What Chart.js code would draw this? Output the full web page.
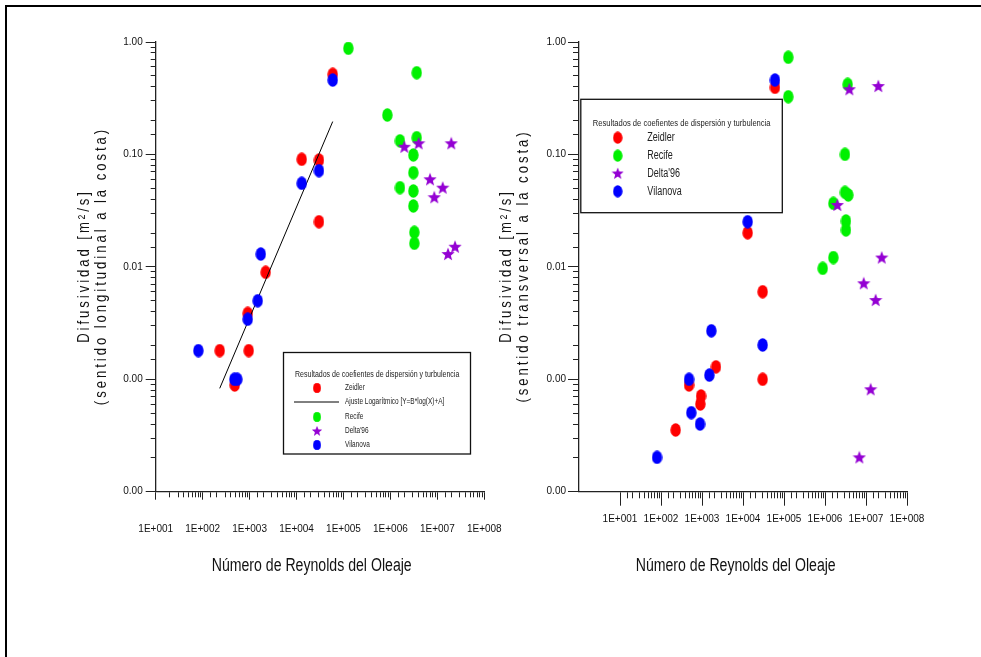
<!DOCTYPE html>
<html>
<head>
<meta charset="utf-8">
<script src="https://cdn.jsdelivr.net/npm/chart.js@4.4.0/dist/chart.umd.min.js"></script>
<style>
	html, body { margin: 0; padding: 0; background: #fff; }
	#page { position: relative; width: 981px; height: 657px; overflow: hidden; }
	#frame { position: absolute; left: 5px; top: 5px; width: 1100px; height: 800px; border-left: 2px solid #000; border-top: 2px solid #000; }
	#longChart { position: absolute; left: 0; top: 0; }
	#transChart { position: absolute; left: 490px; top: 0; }
</style>
</head>
<body>
<div id="page">
	<div id="frame"></div>
	<canvas id="longChart" width="520" height="657"></canvas>
	<canvas id="transChart" width="491" height="657"></canvas>
</div>
<script>
const FONT = '"Liberation Sans", Arial, sans-serif'

// tick labels
const xMajorValues = [10, 100, 1e3, 1e4, 1e5, 1e6, 1e7, 1e8]
const xMajorLabels = ["1E+001", "1E+002", "1E+003", "1E+004", "1E+005", "1E+006", "1E+007", "1E+008"]
const yMajorValues = [1, 0.1, 0.01, 0.001, 0.0001]
const yMajorLabels = ["1.00", "0.10", "0.01", "0.00", "0.00"]

const seriesNames = ["Zeidler", "Ajuste Logarítmico [Y=B*log(X)+A]", "Recife", "Delta'96", "Vilanova"]
const legendTitle = "Resultados de coefientes de dispersión y turbulencia"

// Difusividad longitudinal (left chart)
const zeidlerLongX = [231, 958, 482, 912, 2200, 12900, 30100, 30100, 59000]
const zeidlerLongY = [0.0018, 0.0018, 0.00089, 0.00386, 0.00895, 0.0905, 0.0892, 0.0252, 0.516]
const vilanovaLongX = [81, 473, 547, 912, 1490, 1730, 12900, 30100, 59000]
const vilanovaLongY = [0.0018, 0.001, 0.001, 0.00342, 0.005, 0.013, 0.0554, 0.0717, 0.459]
const recifeLongX = [127000, 3630000, 860000, 1600000, 3630000, 3080000, 3080000, 1600000, 3080000, 3080000, 3230000, 3230000]
const recifeLongY = [0.879, 0.533, 0.224, 0.132, 0.141, 0.0989, 0.0688, 0.0506, 0.0473, 0.0348, 0.0203, 0.0162]
const deltaLongX = [1980000, 4000000, 19800000, 6980000, 13000000, 8600000, 16900000, 23800000]
const deltaLongY = [0.117, 0.1256, 0.1256, 0.0601, 0.0506, 0.0416, 0.013, 0.0151]
const ajusteLongX = [231, 59000]
const ajusteLongY = [0.00083, 0.196]

// Difusividad transversal (right chart)
const zeidlerTransX = [60300, 13000, 30200, 2190, 30200, 482, 946, 910, 228]
const zeidlerTransY = [0.395, 0.0201, 0.00601, 0.00129, 0.001, 0.00089, 0.00071, 0.000603, 0.000354]
const vilanovaTransX = [60300, 13000, 1690, 30200, 1510, 482, 548, 894, 80]
const vilanovaTransY = [0.459, 0.0252, 0.0027, 0.00202, 0.00109, 0.001, 0.000505, 0.0004, 0.000202]
const recifeTransX = [127000, 127000, 3570000, 3070000, 3070000, 3700000, 1600000, 3250000, 3250000, 1600000, 880000]
const recifeTransY = [0.731, 0.326, 0.42, 0.1002, 0.046, 0.0436, 0.0367, 0.0256, 0.0213, 0.0121, 0.0097]
const deltaTransX = [3920000, 20000000, 2000000, 24200000, 8800000, 17200000, 13000000, 6870000]
const deltaTransY = [0.38, 0.406, 0.0355, 0.0121, 0.00714, 0.00507, 0.000815, 0.000202]

function toPoints(xs, ys) {
	return xs.map((x, i) => ({ x: x, y: ys[i] }))
}

function isMajor(v) {
	const l = Math.log10(v)
	return Math.abs(l - Math.round(l)) < 1e-6
}

function majorLabel(v, values, labels) {
	for (let i = 0; i < values.length; i++) {
		if (Math.abs(Math.log10(v) - Math.log10(values[i])) < 1e-6) return labels[i]
	}
	return ""
}

// condensed text: Arial-like face squeezed horizontally (no narrow font installed)
function drawNarrow(ctx, text, x, y, size, k, align, spacing, rotate) {
	ctx.save()
	ctx.translate(x, y)
	if (rotate) ctx.rotate(-Math.PI / 2)
	ctx.scale(k, 1)
	ctx.font = size + "px " + FONT
	ctx.letterSpacing = (spacing || 0) + "px"
	ctx.textAlign = align
	ctx.textBaseline = "middle"
	ctx.fillText(text, 0, 0)
	ctx.restore()
}

// marker images (ellipses and filled stars)
function makeEllipse(color, w, h) {
	const c = document.createElement("canvas")
	c.width = w
	c.height = h
	const g = c.getContext("2d")
	g.fillStyle = color
	g.beginPath()
	g.ellipse(w / 2, h / 2, w / 2 - 0.3, h / 2 - 0.3, 0, 0, Math.PI * 2)
	g.fill()
	return c
}

function makeStar(color, size) {
	const c = document.createElement("canvas")
	c.width = size
	c.height = size
	const g = c.getContext("2d")
	const R = size / 2
	const r = R * 0.42
	g.fillStyle = color
	g.beginPath()
	for (let i = 0; i < 10; i++) {
		const a = -Math.PI / 2 + (i * Math.PI) / 5
		const rad = i % 2 === 0 ? R : r
		g.lineTo(R + rad * Math.cos(a), R + 0.5 + rad * Math.sin(a))
	}
	g.closePath()
	g.fill()
	return c
}

const RED = "#ff0000"
const GREEN = "#00f000"
const BLUE = "#0000ff"
const PURPLE = "#9400d3"

const redDot = makeEllipse(RED, 11, 14)
const greenDot = makeEllipse(GREEN, 11, 14)
const blueDot = makeEllipse(BLUE, 11, 14)
const purpleStar = makeStar(PURPLE, 14)

// legend box drawn over the plot
const boxLegendPlugin = {
	id: "boxLegend",
	afterDatasetsDraw(chart, args, opts) {
		const ctx = chart.ctx
		const b = opts.box
		ctx.save()
		ctx.fillStyle = "#fff"
		ctx.fillRect(b[0], b[1], b[2], b[3])
		ctx.strokeStyle = "#111"
		ctx.lineWidth = 1.3
		ctx.strokeRect(b[0], b[1], b[2], b[3])
		ctx.fillStyle = "#222"
		drawNarrow(ctx, legendTitle, opts.titleX, opts.titleY, opts.titleSize, opts.titleK, "left")
		const datasets = chart.data.datasets
		opts.items.forEach((idx, i) => {
			const ds = datasets[idx]
			const y = opts.itemY[i]
			if (ds.showLine) {
				ctx.strokeStyle = "#000"
				ctx.lineWidth = 1
				ctx.beginPath()
				ctx.moveTo(opts.lineX[0], y)
				ctx.lineTo(opts.lineX[1], y)
				ctx.stroke()
			} else {
				const img = ds.pointStyle
				const w = img.width * opts.markerScale
				const h = img.height * opts.markerScale
				ctx.drawImage(img, opts.markerX - w / 2, y - h / 2, w, h)
			}
			ctx.fillStyle = "#222"
			drawNarrow(ctx, ds.label, opts.textX, y, opts.itemSize, opts.itemK, "left")
		})
		ctx.restore()
	},
}

// axis titles (rotated, letter spaced y title)
const axisTextPlugin = {
	id: "axisText",
	afterDraw(chart, args, opts) {
		const ctx = chart.ctx
		ctx.save()
		ctx.fillStyle = "#111"
		drawNarrow(ctx, opts.xText, opts.xPos[0], opts.xPos[1], opts.xSize, opts.xK, "center")
		opts.yLines.forEach((line, i) => {
			drawNarrow(ctx, line, opts.yXs[i], opts.yCenter, opts.ySize, opts.yK, "center", opts.ySpacing, true)
		})
		ctx.restore()
	},
}

function buildChart(canvasId, cfg) {
	const datasets = [
		{ label: seriesNames[0], data: cfg.zeidler, pointStyle: redDot, pointRadius: 7, order: 4 },
		{ label: seriesNames[1], data: cfg.ajuste || [], showLine: true, borderColor: "#000", borderWidth: 1, pointRadius: 0, order: 3 },
		{ label: seriesNames[2], data: cfg.recife, pointStyle: greenDot, pointRadius: 7, order: 2 },
		{ label: seriesNames[3], data: cfg.delta, pointStyle: purpleStar, pointRadius: 7, order: 1 },
		{ label: seriesNames[4], data: cfg.vilanova, pointStyle: blueDot, pointRadius: 7, order: 0 },
	]
	new Chart(document.getElementById(canvasId).getContext("2d"), {
		type: "scatter",
		data: { datasets: datasets },
		plugins: [boxLegendPlugin, axisTextPlugin],
		options: {
			responsive: false,
			animation: false,
			events: [],
			layout: { padding: cfg.padding },
			plugins: {
				legend: { display: false },
				tooltip: { enabled: false },
				boxLegend: cfg.legend,
				axisText: cfg.titles,
			},
			scales: {
				x: {
					type: "logarithmic",
					position: "bottom",
					min: cfg.xMin,
					max: 1e8,
					afterBuildTicks: (s) => {
						s.ticks = s.ticks.filter((t) => t.value >= 9.999)
					},
					afterFit: (s) => {
						s.height = 50
						s.paddingLeft = 0
						s.paddingRight = 0
					},
					border: { display: true, color: "#222", width: 1.3 },
					grid: {
						drawOnChartArea: false,
						drawTicks: true,
						tickLength: cfg.xTick[0],
						tickColor: "#222",
						tickWidth: 1,
						tickBorderDash: (c) => (c.tick && !isMajor(c.tick.value) ? [cfg.xTick[1], 100] : []),
					},
					ticks: {
						autoSkip: false,
						maxRotation: 0,
						minRotation: 0,
						padding: cfg.xLabelPad,
						color: "#111",
						font: { family: FONT, size: 10 },
						callback: (v) => majorLabel(v, xMajorValues, xMajorLabels),
					},
				},
				y: {
					type: "logarithmic",
					position: "left",
					min: 0.0001,
					max: 1,
					afterFit: (s) => {
						s.width = cfg.yWidth
						s.paddingTop = 0
						s.paddingBottom = 0
					},
					border: { display: true, color: "#222", width: 1.3 },
					grid: {
						drawOnChartArea: false,
						drawTicks: true,
						tickLength: cfg.yTick[0],
						tickColor: "#222",
						tickWidth: 1,
						tickBorderDash: (c) =>
							c.tick && !isMajor(c.tick.value) ? [0, cfg.yTick[0] - cfg.yTick[1], cfg.yTick[1], 100] : [],
					},
					ticks: {
						autoSkip: false,
						padding: cfg.yLabelPad,
						color: "#111",
						font: { family: FONT, size: 10 },
						callback: (v) => majorLabel(v, yMajorValues, yMajorLabels),
					},
				},
			},
		},
	})
}

document.addEventListener("DOMContentLoaded", function () {
	buildChart("longChart", {
		zeidler: toPoints(zeidlerLongX, zeidlerLongY),
		ajuste: toPoints(ajusteLongX, ajusteLongY),
		recife: toPoints(recifeLongX, recifeLongY),
		delta: toPoints(deltaLongX, deltaLongY),
		vilanova: toPoints(vilanovaLongX, vilanovaLongY),
		xMin: 10,
		yWidth: 155.7,
		padding: { left: 0, top: 42, right: 35.7, bottom: 115.3 },
		xTick: [8, 5],
		yTick: [10, 5],
		xLabelPad: 24,
		yLabelPad: 3,
		legend: {
			box: [283.5, 352.5, 187, 101.5],
			titleX: 295,
			titleY: 375,
			titleSize: 9,
			titleK: 0.78,
			itemSize: 9,
			itemK: 0.72,
			items: [0, 1, 2, 3, 4],
			itemY: [388, 402, 417, 431, 445],
			markerX: 317,
			markerScale: 0.78,
			lineX: [294, 339],
			textX: 345,
		},
		titles: {
			xText: "Número de Reynolds del Oleaje",
			xPos: [311.7, 566],
			xSize: 18,
			xK: 0.784,
			yLines: ["Difusividad [m²/s]", "(sentido longitudinal a la costa)"],
			yXs: [85, 102],
			yCenter: 266,
			ySize: 16,
			yK: 0.82,
			ySpacing: 3.6,
		},
	})

	buildChart("transChart", {
		zeidler: toPoints(zeidlerTransX, zeidlerTransY),
		recife: toPoints(recifeTransX, recifeTransY),
		delta: toPoints(deltaTransX, deltaTransY),
		vilanova: toPoints(vilanovaTransX, vilanovaTransY),
		xMin: 1,
		yWidth: 89,
		padding: { left: 0, top: 42, right: 74, bottom: 115.3 },
		xTick: [14, 6],
		yTick: [11, 6],
		xLabelPad: 7.8,
		yLabelPad: 2,
		legend: {
			box: [90.8, 99.3, 201.5, 113.4],
			titleX: 102.7,
			titleY: 123.3,
			titleSize: 9.5,
			titleK: 0.8,
			itemSize: 12.5,
			itemK: 0.72,
			items: [0, 2, 3, 4],
			itemY: [137.7, 155.7, 173.3, 191.3],
			markerX: 127.7,
			markerScale: 0.9,
			lineX: [0, 0],
			textX: 157.3,
		},
		titles: {
			xText: "Número de Reynolds del Oleaje",
			xPos: [245.7, 566],
			xSize: 18,
			xK: 0.784,
			yLines: ["Difusividad [m²/s]", "(sentido transversal a la costa)"],
			yXs: [17, 34],
			yCenter: 266,
			ySize: 16,
			yK: 0.82,
			ySpacing: 3.6,
		},
	})
})
</script>
</body>
</html>
